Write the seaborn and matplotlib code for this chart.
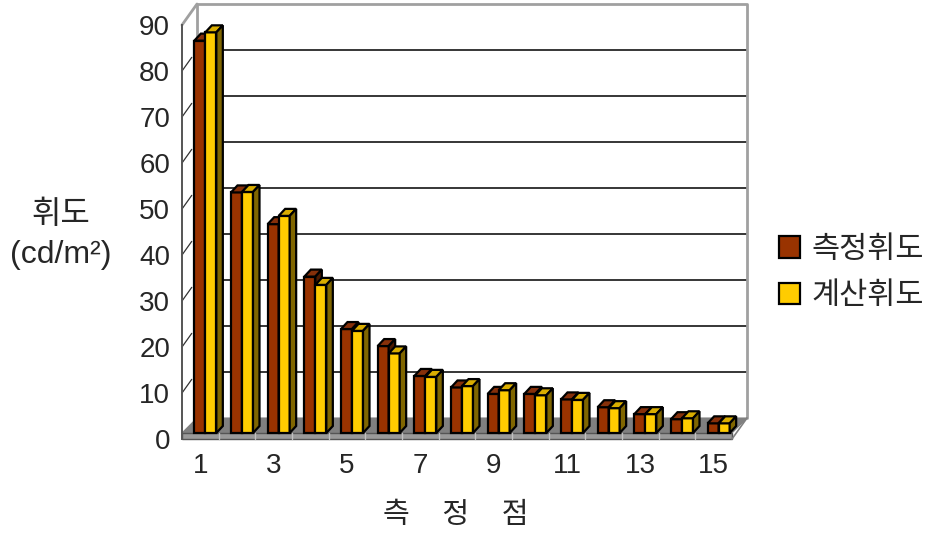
import numpy as np
import pandas as pd
import matplotlib
matplotlib.use("Agg")
import matplotlib.pyplot as plt
from matplotlib.patches import Polygon, Patch
import seaborn as sns

# 측정점별 휘도 (값은 그림에서 읽은 추정치)
points = [str(i) for i in range(1, 16)]
measured = [85.3, 52.3, 45.4, 34.0, 22.6, 18.9, 12.4, 9.9, 8.5, 8.5, 7.3, 5.6, 4.1, 3.0, 2.1]
calculated = [87.1, 52.4, 47.2, 32.2, 22.2, 17.3, 12.2, 10.2, 9.3, 8.2, 7.2, 5.4, 4.1, 3.2, 2.1]
series = ["측정휘도", "계산휘도"]
yticks = list(range(0, 100, 10))
xtick_labels = ["1", "3", "5", "7", "9", "11", "13", "15"]

df = pd.DataFrame({
    "point": points * 2,
    "series": [series[0]] * len(points) + [series[1]] * len(points),
    "value": measured + calculated,
})

front = {"측정휘도": "#993300", "계산휘도": "#FFCC00"}
top = {"측정휘도": "#86300A", "계산휘도": "#D9AD00"}
side = {"측정휘도": "#4D1A00", "계산휘도": "#806600"}

sns.set_style("white")
# 숫자/라틴 문자는 Liberation Sans, 한글은 Noto Sans CJK KR
plt.rcParams["font.family"] = ["Liberation Sans", "Noto Sans CJK KR", "DejaVu Sans"]

DPI = 100
fig = plt.figure(figsize=(9.32, 5.35), dpi=DPI)
# 앞면(front plane) 위치
ax = fig.add_axes([182 / 932, 96 / 535, 550 / 932, 414 / 535])

sns.barplot(data=df, x="point", y="value", hue="series", palette=front,
            width=0.6, saturation=1, edgecolor="black", linewidth=1.6,
            errorbar=None, legend=False, ax=ax)
ax.set_xlim(-0.5, 14.5)
ax.set_ylim(0, 90)
ax.patch.set_visible(False)

# 막대 목록 (계열별)
bar_list = []
for s, cont in zip(series, ax.containers):
    for b in cont.patches:
        bar_list.append((b, s))
bar_list.sort(key=lambda t: t[0].get_x())

# 픽셀 -> 데이터 단위
p0 = ax.transData.transform((0, 0))
p1 = ax.transData.transform((1, 1))
ux = 1.0 / (p1[0] - p0[0])
uy = 1.0 / (p1[1] - p0[1])

# 뒷벽/바닥 오프셋(px)
bx, by = 15 * ux, 21 * uy
x0, x1 = -0.5, 14.5

# 바닥
floor_front = Polygon([(x0, 0), (x1, 0), (x1, 6 * uy), (x0, 6 * uy)],
                      closed=True, facecolor="#9A9A9A", edgecolor="#555555",
                      lw=1.0, clip_on=False, zorder=1)
floor_top = Polygon([(x0, 6 * uy), (x1, 6 * uy), (x1 + bx, by), (x0 + bx, by)],
                    closed=True, facecolor="#808080", edgecolor="#808080",
                    lw=0.8, clip_on=False, zorder=1)
ax.add_patch(floor_top)
ax.add_patch(floor_front)
ax.plot([x1, x1 + bx], [0, by], color="#808080", lw=1.2, clip_on=False, zorder=1)
for k in range(1, 15):
    ax.plot([k - 0.5, k - 0.5], [0, 6 * uy], color="#C0C0C0", lw=1.0,
            clip_on=False, zorder=1.1)

# 뒷벽 격자선과 테두리
for v in yticks[1:-1]:
    ax.plot([x0 + bx, x1 + bx], [v + by, v + by], color="black", lw=1.1,
            clip_on=False, zorder=0.8)
    ax.plot([x0, x0 + bx * 0.65], [v, v + by * 0.65], color="#333333", lw=0.9,
            clip_on=False, zorder=0.8)
ax.plot([x0 + bx, x0 + bx, x1 + bx, x1 + bx], [by, 90 + by, 90 + by, by],
        color="#A0A0A0", lw=2.0, clip_on=False, zorder=0.9)
ax.plot([x0, x0 + bx], [90, 90 + by], color="#A0A0A0", lw=2.0,
        clip_on=False, zorder=0.9)

# 막대 입체 효과
fx, fy = 5 * ux, 6 * uy
dx, dy = 6.5 * ux, 7 * uy
for i, (b, key) in enumerate(bar_list):
    bl, w, h = b.get_x() + fx, b.get_width(), b.get_height()
    z = 2 + i * 0.01
    b.set_x(bl)
    b.set_y(fy)
    b.set_zorder(z)
    b.set_clip_on(False)
    t = fy + h
    ax.add_patch(Polygon([(bl, t), (bl + w, t), (bl + w + dx, t + dy), (bl + dx, t + dy)],
                         closed=True, facecolor=top[key], edgecolor="black",
                         lw=1.6, zorder=z, clip_on=False))
    ax.add_patch(Polygon([(bl + w, fy), (bl + w + dx, fy + dy), (bl + w + dx, t + dy), (bl + w, t)],
                         closed=True, facecolor=side[key], edgecolor="black",
                         lw=1.6, zorder=z, clip_on=False))

# 축
sns.despine(ax=ax, top=True, right=True, bottom=True, left=False)
ax.spines["left"].set_color("#555555")
ax.spines["left"].set_linewidth(1.4)
ax.set_yticks(yticks)
ax.set_yticklabels([str(v) for v in yticks])
ax.set_xticks(range(0, 15, 2))
ax.set_xticklabels(xtick_labels)
ax.tick_params(axis="y", length=2.5, width=1.0, color="#555555", pad=6, labelsize=20)
ax.tick_params(axis="x", length=0, pad=10, labelsize=20)

ax.set_xlabel("측    정    점", fontsize=21)
ax.xaxis.set_label_coords((456 - 182) / 550, (439 - 515) / 414)
ax.xaxis.label.set_va("center")
ax.set_ylabel("휘도\n(cd/m²)", fontsize=23, rotation=0, ha="center", va="center",
              linespacing=1.4)
ax.yaxis.set_label_coords((61 - 182) / 550, (439 - 235) / 414)

handles = [Patch(facecolor=front[s], edgecolor="black", lw=1.6) for s in series]
fig.legend(handles, series, loc="center left", bbox_to_anchor=(779 / 932, 1 - 273 / 535),
           frameon=False, fontsize=22, handlelength=0.7, handleheight=0.7,
           handletextpad=0.35, labelspacing=0.55, borderaxespad=0, borderpad=0)

fig.savefig("out.png", dpi=DPI)
